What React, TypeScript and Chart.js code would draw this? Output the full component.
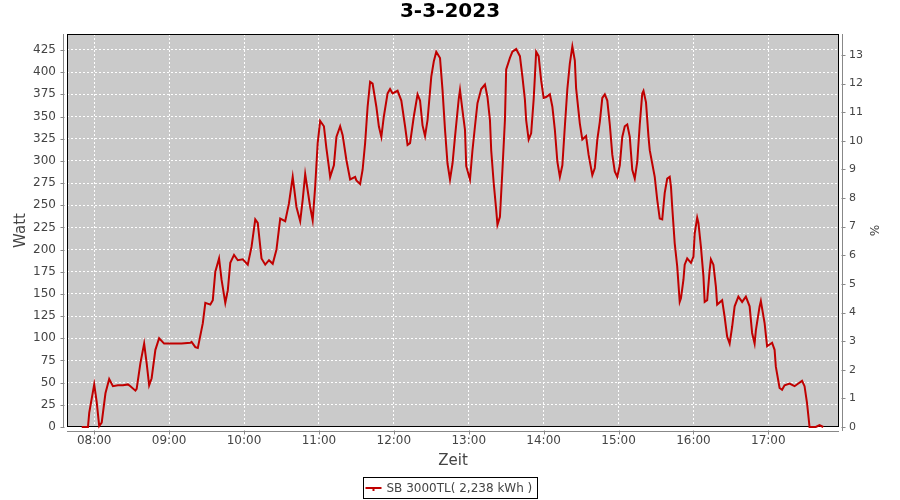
import React, { useEffect, useRef } from "react";
import { Chart, registerables } from "chart.js";

Chart.register(...registerables);
Chart.defaults.font.family = '"DejaVu Sans", sans-serif';

const chartTitle = "3-3-2023";
const seriesLabel = "SB 3000TL( 2,238 kWh )";
const xTitle = "Zeit";
const yTitle = "Watt";
const y2Title = "%";

const times = [
  "07:50","07:55","07:56","08:00","08:02","08:04","08:06","08:09","08:12","08:15",
  "08:19","08:23","08:27","08:29","08:33","08:34","08:37","08:40","08:42","08:44",
  "08:46","08:49","08:52","08:56","09:01","09:05","09:10","09:17","09:18","09:21",
  "09:23","09:27","09:29","09:33","09:35","09:37","09:40","09:42","09:45","09:47",
  "09:49","09:52","09:55","09:59","10:03","10:06","10:09","10:11","10:14","10:17",
  "10:20","10:23","10:26","10:29","10:33","10:36","10:39","10:42","10:45","10:47",
  "10:49","10:53","10:55","10:57","10:59","11:01","11:04","11:06","11:08","11:09",
  "11:12","11:14","11:17","11:19","11:22","11:25","11:29","11:30","11:33","11:35",
  "11:37","11:39","11:41","11:43","11:46","11:48","11:50","11:52","11:55","11:57",
  "11:59","12:03","12:06","12:09","12:11","12:13","12:16","12:19","12:21","12:23",
  "12:25","12:27","12:30","12:32","12:34","12:37","12:39","12:41","12:43","12:45",
  "12:47","12:49","12:52","12:53","12:55","12:57","12:58","13:01","13:03","13:05",
  "13:07","13:10","13:13","13:15","13:17","13:18","13:20","13:22","13:23","13:25",
  "13:27","13:29","13:30","13:33","13:35","13:38","13:41","13:43","13:45","13:46",
  "13:48","13:50","13:52","13:53","13:54","13:56","13:58","14:00","14:02","14:05",
  "14:07","14:09","14:11","14:13","14:15","14:17","14:19","14:21","14:23","14:25",
  "14:26","14:29","14:31","14:34","14:36","14:39","14:41","14:43","14:45","14:47",
  "14:49","14:51","14:53","14:55","14:57","14:59","15:01","15:03","15:05","15:07",
  "15:09","15:11","15:13","15:15","15:17","15:19","15:20","15:22","15:24","15:25",
  "15:27","15:29","15:31","15:33","15:35","15:37","15:39","15:41","15:42","15:43",
  "15:45","15:47","15:49","15:50","15:52","15:53","15:55","15:58","16:00","16:01",
  "16:03","16:04","16:06","16:08","16:09","16:11","16:13","16:14","16:16","16:18",
  "16:19","16:23","16:25","16:27","16:29","16:31","16:33","16:36","16:39","16:42",
  "16:45","16:47","16:49","16:50","16:53","16:54","16:57","16:59","17:03","17:05",
  "17:06","17:09","17:11","17:13","17:17","17:21","17:24","17:27","17:29","17:31",
  "17:33","17:38","17:41","17:44"
];

const watts = [
  0,0,16,48,28,1,5,38,54,46,
  47,47,48,46,41,43,72,94,72,47,
  55,87,100,94,94,94,94,95,96,90,
  89,117,140,138,143,175,190,166,140,154,
  185,194,188,189,183,203,234,230,190,183,
  188,184,200,235,232,252,282,248,232,256,
  285,248,233,271,320,345,339,314,293,282,
  295,327,339,329,301,279,282,278,274,290,
  320,361,389,387,361,339,327,350,376,381,
  376,379,368,339,318,320,350,375,368,340,
  328,346,395,412,423,416,380,335,297,279,
  297,327,370,380,357,335,294,279,312,339,
  365,381,386,372,346,312,275,245,228,237,
  290,346,403,416,423,426,418,395,369,346,
  324,331,369,395,423,418,391,371,372,375,
  361,335,299,282,295,339,381,410,429,413,
  382,342,324,328,307,284,292,324,344,371,
  375,368,341,307,288,282,295,327,339,341,
  327,290,280,299,341,376,379,366,327,312,
  297,282,256,235,234,264,280,282,271,248,
  207,181,141,145,166,183,190,185,192,218,
  236,230,203,170,141,143,177,189,183,158,
  138,143,124,102,94,113,136,147,141,147,
  136,106,94,109,136,142,117,91,95,87,
  68,44,42,47,49,46,49,52,46,27,
  0,0,2,0
];

const timeTicks = ["08:00","09:00","10:00","11:00","12:00","13:00","14:00","15:00","16:00","17:00"];
const wattTicks = [0,25,50,75,100,125,150,175,200,225,250,275,300,325,350,375,400,425];
const percentTicks = [0,1,2,3,4,5,6,7,8,9,10,11,12,13];
const xMinMinutes = 458.2;
const xMaxMinutes = 1076.6;
const wattMax = 443;
const percentMax = 13.73;

const PLOT_BG = "#cacaca";
const LINE_COLOR = "#c00000";
const AXIS_COLOR = "#888888";
const TEXT_COLOR = "#444444";

const toMin = (s: string) => {
  const [h, m] = s.split(":").map(Number);
  return h * 60 + m;
};
const fmt = (v: number) => {
  const h = Math.floor(v / 60);
  const m = Math.round(v - h * 60);
  return String(h).padStart(2, "0") + ":" + String(m).padStart(2, "0");
};

const decor = {
  id: "decor",
  beforeDraw(chart: any) {
    const { ctx, chartArea: a } = chart;
    ctx.save();
    ctx.fillStyle = PLOT_BG;
    ctx.fillRect(a.left, a.top, a.right - a.left, a.bottom - a.top);
    ctx.restore();
  },
  beforeDatasetsDraw(chart: any) {
    const { ctx, chartArea: a } = chart;
    ctx.save();
    ctx.strokeStyle = "#000";
    ctx.lineWidth = 1;
    ctx.strokeRect(Math.round(a.left) + 0.5, Math.round(a.top) + 0.5, Math.round(a.right - a.left) - 1, Math.round(a.bottom - a.top) - 1);
    ctx.restore();
  },
  afterDraw(chart: any) {
    const { ctx, chartArea: a, scales } = chart;
    const off = 4;
    ctx.save();
    ctx.lineWidth = 1;
    ctx.strokeStyle = AXIS_COLOR;
    ctx.beginPath();
    const lx = Math.round(a.left) - off + 0.5;
    const rx = Math.round(a.right) + off - 0.5;
    const by = Math.round(a.bottom) + off + 0.5;
    ctx.moveTo(lx, a.top); ctx.lineTo(lx, a.bottom);
    ctx.moveTo(rx, a.top); ctx.lineTo(rx, a.bottom + off);
    ctx.moveTo(a.left, by); ctx.lineTo(a.right, by);
    scales.y.ticks.forEach((t: any) => {
      const y = Math.round(scales.y.getPixelForValue(t.value)) + 0.5;
      ctx.moveTo(lx - 3, y); ctx.lineTo(lx + 1, y);
    });
    scales.y2.ticks.forEach((t: any) => {
      const y = Math.round(scales.y2.getPixelForValue(t.value)) + 0.5;
      ctx.moveTo(rx - 1, y); ctx.lineTo(rx + 3, y);
    });
    scales.x.ticks.forEach((t: any) => {
      const x = Math.round(scales.x.getPixelForValue(t.value)) + 0.5;
      ctx.moveTo(x, by - 1); ctx.lineTo(x, by + 3);
    });
    ctx.stroke();

    // legend
    const label = chart.data.datasets[0].label;
    ctx.font = '12px "DejaVu Sans", sans-serif';
    const tw = ctx.measureText(label).width;
    const boxW = Math.round(2 + 16 + 5 + tw + 5);
    const bx = Math.round(450 - boxW / 2) + 0.5;
    const btop = 477.5;
    const bh = 21;
    ctx.strokeStyle = "#000";
    ctx.strokeRect(bx, btop, boxW, bh);
    const cy = btop + bh / 2;
    ctx.fillStyle = LINE_COLOR;
    ctx.fillRect(bx + 2, Math.round(cy) - 1, 16, 2);
    ctx.fillRect(bx + 9, Math.round(cy) + 1, 2, 2);
    ctx.fillStyle = TEXT_COLOR;
    ctx.textBaseline = "middle";
    ctx.textAlign = "left";
    ctx.fillText(label, bx + 23, cy + 0.5);
    ctx.restore();
  },
};

export default function App() {
  const ref = useRef<HTMLCanvasElement>(null);
  useEffect(() => {
    if (!ref.current) return;
    const chart = new Chart(ref.current, {
      type: "line",
      data: {
        datasets: [
          {
            label: seriesLabel,
            data: times.map((t, i) => ({ x: toMin(t), y: watts[i] })),
            borderColor: LINE_COLOR,
            backgroundColor: LINE_COLOR,
            borderWidth: 2,
            pointRadius: 0,
            tension: 0,
            fill: false,
            yAxisID: "y",
            clip: { left: 0, top: 0, right: 0, bottom: 2 },
          },
        ],
      },
      options: {
        responsive: false,
        animation: false,
        devicePixelRatio: 1,
        layout: { padding: { left: 0, right: 0, top: 0, bottom: 28 }, autoPadding: false },
        plugins: {
          legend: { display: false },
          tooltip: { enabled: false },
          title: {
            display: true,
            text: chartTitle,
            color: "#000",
            font: { size: 20, weight: "bold" },
            padding: { top: 0, bottom: 10 },
          },
        },
        scales: {
          x: {
            type: "linear",
            min: xMinMinutes,
            max: xMaxMinutes,
            afterFit: (s: any) => { s.height = 45; },
            afterBuildTicks: (s: any) => { s.ticks = timeTicks.map((t) => ({ value: toMin(t) })); },
            ticks: {
              callback: (v: any) => fmt(Number(v)),
              color: TEXT_COLOR,
              font: { size: 12 },
              padding: 7,
              maxRotation: 0,
              autoSkip: false,
            },
            grid: { color: "#ffffff", drawTicks: false, lineWidth: 1 },
            border: { display: false, dash: [2, 2] },
            title: { display: true, text: xTitle, color: TEXT_COLOR, font: { size: 15 }, padding: { top: 0, bottom: 2 } },
          },
          y: {
            type: "linear",
            position: "left",
            min: 0,
            max: wattMax,
            afterFit: (s: any) => { s.width = 67; },
            afterBuildTicks: (s: any) => { s.ticks = wattTicks.map((v) => ({ value: v })); },
            ticks: { color: TEXT_COLOR, font: { size: 12 }, padding: 11 },
            grid: { color: "#ffffff", drawTicks: false, lineWidth: 1 },
            border: { display: false, dash: [2, 2] },
            title: { display: true, text: yTitle, color: TEXT_COLOR, font: { size: 15 }, padding: { top: 12, bottom: 0 } },
          },
          y2: {
            type: "linear",
            position: "right",
            min: 0,
            max: percentMax,
            afterFit: (s: any) => { s.width = 61; },
            afterBuildTicks: (s: any) => { s.ticks = percentTicks.map((v) => ({ value: v })); },
            ticks: { color: TEXT_COLOR, font: { size: 11 }, padding: 10 },
            grid: { display: false, drawTicks: false },
            border: { display: false },
            title: { display: true, text: y2Title, color: TEXT_COLOR, font: { size: 12 }, padding: { top: 20, bottom: 0 } },
          },
        },
      },
      plugins: [decor],
    } as any);
    return () => chart.destroy();
  }, []);
  return (
    <div style={{ position: "absolute", left: 0, top: 0, width: 900, height: 500 }}>
      <canvas ref={ref} width={900} height={500} style={{ display: "block", width: 900, height: 500 }} />
    </div>
  );
}
